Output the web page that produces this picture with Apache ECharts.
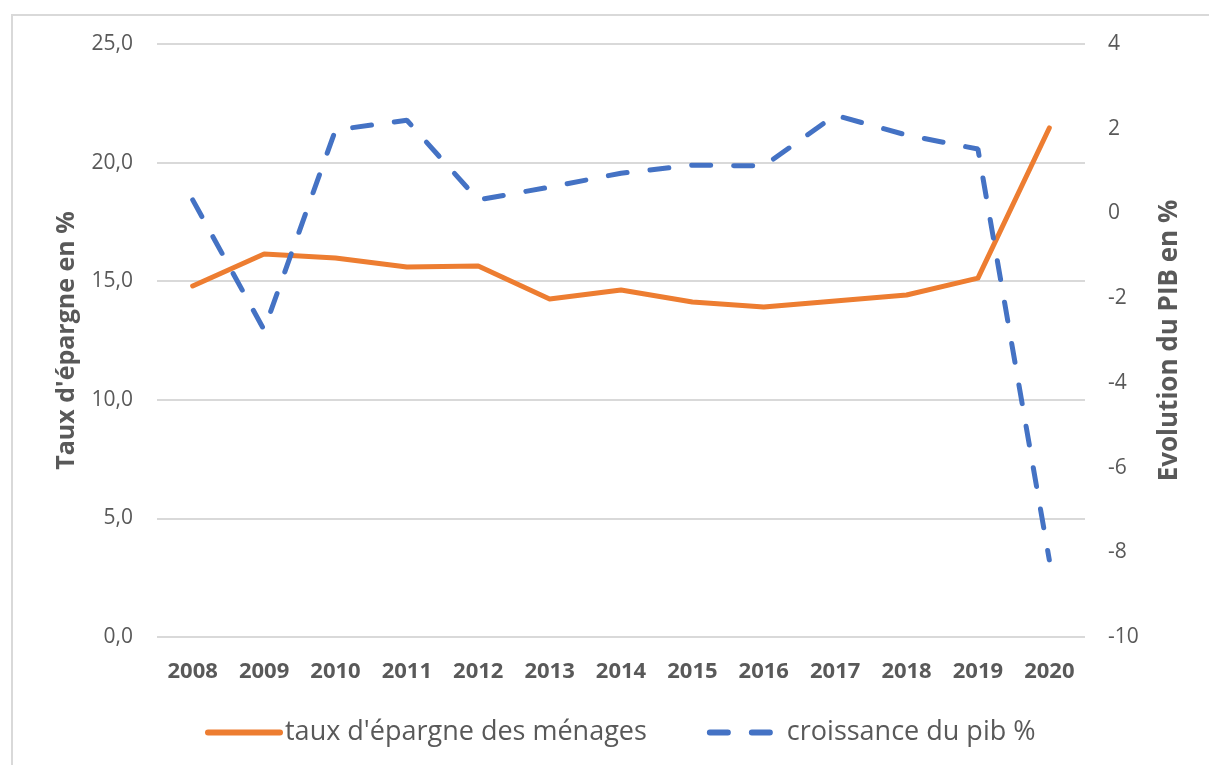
<!DOCTYPE html>
<html>
<head>
<meta charset="utf-8">
<style>
  html, body { margin: 0; padding: 0; background: #fff; }
  #frame { position: absolute; left: 11px; top: 14px; width: 1210px; height: 760px; border: 2px solid #d9d9d9; box-sizing: border-box; }
  #container { position: absolute; left: 0; top: 0; width: 1209px; height: 765px; }
</style>
<script src="https://cdn.jsdelivr.net/npm/echarts@6/dist/echarts.min.js"></script>
</head>
<body>
<div id="frame"></div>
<div id="container"></div>
<script>
const years = ["2008", "2009", "2010", "2011", "2012", "2013", "2014", "2015", "2016", "2017", "2018", "2019", "2020"];
const tauxEpargne = [14.8, 16.15, 15.98, 15.6, 15.64, 14.25, 14.63, 14.12, 13.91, 14.17, 14.42, 15.13, 21.46];
const croissancePib = [0.32, -2.75, 1.97, 2.2, 0.32, 0.62, 0.95, 1.14, 1.12, 2.32, 1.85, 1.52, -8.18];

const textColor = "#595959";
const orange = "#ED7D31";
const blue = "#4472C4";
const font = "'Open Sans', sans-serif";

const dom = document.getElementById("container");
const myChart = echarts.init(dom);

const option = {
  animation: false,
  textStyle: { fontFamily: font, color: textColor },
  grid: { left: 157, right: 124, top: 44, bottom: 128 },
  xAxis: {
    type: "category",
    data: years,
    boundaryGap: true,
    axisLine: { show: false },
    axisTick: { show: false },
    axisLabel: { color: textColor, fontSize: 22, fontWeight: "bold", margin: 24 },
  },
  yAxis: [
    {
      type: "value",
      min: 0,
      max: 25,
      interval: 5,
      name: "Taux d'épargne en %",
      nameLocation: "middle",
      nameGap: 78,
      nameTextStyle: { fontSize: 25, fontWeight: "bold", color: textColor },
      axisLine: { show: false },
      axisTick: { show: false },
      splitLine: { lineStyle: { color: "#d9d9d9", width: 2 } },
      axisLabel: {
        color: textColor,
        fontSize: 21,
        margin: 24,
        formatter: (v) => v.toFixed(1).replace(".", ","),
      },
    },
    {
      type: "value",
      min: -10,
      max: 4,
      interval: 2,
      name: "Evolution du PIB en %",
      nameLocation: "middle",
      nameGap: 72,
      nameRotate: 90,
      nameTextStyle: { fontSize: 26, fontWeight: "bold", color: textColor },
      axisLine: { show: false },
      axisTick: { show: false },
      splitLine: { show: false },
      axisLabel: { color: textColor, fontSize: 21, margin: 23 },
    },
  ],
  legend: {
    bottom: 14,
    left: 200,
    itemWidth: 72,
    itemHeight: 14,
    itemGap: 60,
    textStyle: { color: textColor, fontSize: 27, fontFamily: font },
    data: [
      {
        name: "taux d'épargne des ménages",
        itemStyle: { opacity: 0 },
        lineStyle: { color: orange, width: 6, cap: "round" },
      },
      {
        name: "croissance du pib %",
        itemStyle: { opacity: 0 },
        lineStyle: { color: blue, width: 6, type: [18, 24], cap: "round" },
      },
    ],
  },
  series: [
    {
      name: "taux d'épargne des ménages",
      type: "line",
      yAxisIndex: 0,
      data: tauxEpargne,
      symbol: "none",
      lineStyle: { color: orange, width: 5, cap: "round", join: "round" },
      itemStyle: { color: orange },
    },
    {
      name: "croissance du pib %",
      type: "line",
      yAxisIndex: 1,
      data: croissancePib,
      symbol: "none",
      lineStyle: { color: blue, width: 5, type: [19, 23], cap: "round" },
      itemStyle: { color: blue },
    },
  ],
};

myChart.setOption(option);
</script>
</body>
</html>
